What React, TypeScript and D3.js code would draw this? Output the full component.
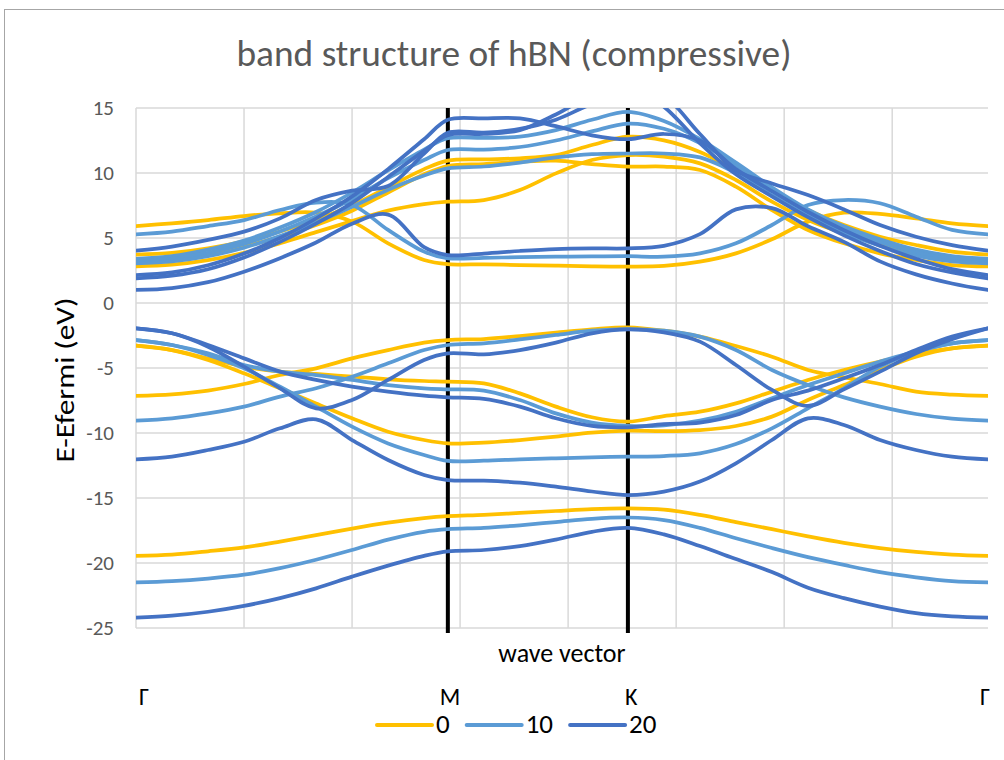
import React from "react";
import * as d3 from "d3";

// k-path positions (Γ=0, M=0.866, K=1.366, Γ=2.366)
const K_PATH = [
  0, 0.1, 0.2, 0.3, 0.4, 0.5, 0.6, 0.7, 0.8, 0.866,
  0.966, 1.066, 1.166, 1.266, 1.366,
  1.466, 1.566, 1.666, 1.766, 1.866, 1.966, 2.066, 2.166, 2.266, 2.366,
];

const SERIES_NAMES = ["0", "10", "20"];
const SERIES_COLORS = ["#FFC000", "#5B9BD5", "#4472C4"];

// strain 0
const BANDS_0: number[][] = [
  [-19.45, -19.35, -19.1, -18.8, -18.35, -17.85, -17.35, -16.9, -16.55, -16.4, -16.3, -16.15, -16.0, -15.85, -15.8, -15.9, -16.3, -16.85, -17.4, -17.95, -18.45, -18.85, -19.15, -19.35, -19.45],
  [-7.15, -7.03, -6.74, -6.23, -5.54, -5.03, -4.26, -3.62, -3.05, -2.85, -2.77, -2.54, -2.28, -2.03, -1.87, -2.13, -2.59, -3.31, -4.13, -5.15, -5.72, -6.23, -6.82, -7.05, -7.15],
  [-3.28, -3.62, -4.26, -4.9, -5.28, -5.46, -5.67, -5.87, -6.0, -6.05, -6.18, -6.95, -7.97, -8.79, -9.13, -8.7, -8.36, -7.72, -6.82, -5.92, -5.15, -4.51, -3.92, -3.49, -3.28],
  [-3.28, -3.62, -4.38, -5.41, -6.56, -7.72, -8.87, -9.9, -10.54, -10.8, -10.74, -10.54, -10.28, -9.97, -9.82, -9.85, -9.77, -9.46, -8.74, -7.46, -6.31, -5.15, -4.13, -3.49, -3.28],
  [5.92, 6.13, 6.38, 6.69, 6.9, 6.95, 6.26, 4.59, 3.31, 2.99, 2.97, 2.92, 2.87, 2.82, 2.8, 2.85, 3.18, 3.82, 4.9, 6.26, 6.95, 6.85, 6.51, 6.13, 5.92],
  [3.72, 3.85, 4.2, 4.75, 5.5, 6.4, 7.5, 8.9, 10.3, 10.95, 11.05, 11.13, 11.38, 12.15, 12.79, 12.51, 11.62, 10.2, 8.69, 7.15, 5.99, 5.1, 4.46, 3.95, 3.72],
  [2.82, 2.95, 3.3, 3.85, 4.6, 5.45, 6.3, 7.1, 7.6, 7.79, 7.92, 8.69, 9.97, 11.0, 11.38, 11.26, 10.74, 9.46, 7.79, 6.38, 5.36, 4.59, 3.82, 3.44, 3.3],
  [3.3, 3.45, 3.8, 4.35, 5.1, 6.0, 7.1, 8.5, 9.9, 10.54, 10.69, 10.87, 10.95, 10.69, 10.49, 10.49, 10.23, 8.95, 7.15, 5.62, 4.59, 3.82, 3.31, 2.92, 2.82],
];

// strain 10
const BANDS_10: number[][] = [
  [-21.5, -21.4, -21.2, -20.9, -20.4, -19.75, -19.0, -18.2, -17.6, -17.4, -17.3, -17.1, -16.85, -16.6, -16.5, -16.7, -17.3, -18.1, -18.85, -19.55, -20.15, -20.7, -21.1, -21.4, -21.5],
  [-9.05, -8.87, -8.49, -7.97, -7.2, -6.56, -5.67, -4.64, -3.62, -3.23, -3.1, -2.8, -2.46, -2.13, -2.0, -2.13, -2.59, -3.62, -5.15, -6.31, -7.26, -7.97, -8.54, -8.9, -9.05],
  [-2.85, -3.23, -3.87, -4.77, -5.28, -5.54, -5.92, -6.31, -6.56, -6.64, -6.74, -7.46, -8.49, -9.2, -9.46, -9.41, -9.05, -8.36, -7.33, -6.31, -5.41, -4.51, -3.74, -3.1, -2.85],
  [-2.85, -3.23, -4.0, -5.03, -6.44, -7.97, -9.51, -10.8, -11.69, -12.15, -12.13, -12.03, -11.95, -11.87, -11.82, -11.77, -11.56, -10.85, -9.64, -8.1, -6.56, -4.9, -3.74, -3.1, -2.85],
  [5.28, 5.49, 5.92, 6.38, 7.15, 7.72, 7.54, 5.62, 3.95, 3.44, 3.48, 3.52, 3.56, 3.58, 3.6, 3.56, 3.82, 4.59, 6.0, 7.54, 7.92, 7.67, 6.64, 5.62, 5.28],
  [3.4, 3.6, 4.1, 4.8, 5.8, 7.0, 8.5, 10.2, 11.8, 12.67, 12.7, 12.8, 13.3, 14.1, 14.7, 14.0, 12.6, 10.8, 8.9, 7.2, 5.9, 4.9, 4.1, 3.6, 3.4],
  [3.2, 3.4, 3.85, 4.55, 5.5, 6.65, 8.0, 9.6, 11.0, 11.77, 11.8, 12.0, 12.5, 13.2, 13.8, 13.4, 12.3, 10.6, 8.7, 7.0, 5.7, 4.7, 3.9, 3.4, 3.2],
  [3.05, 3.2, 3.6, 4.25, 5.15, 6.2, 7.4, 8.7, 9.8, 10.36, 10.5, 10.8, 11.2, 11.45, 11.5, 11.5, 11.2, 10.0, 8.3, 6.7, 5.4, 4.4, 3.65, 3.2, 3.05],
];

// strain 20
const BANDS_20: number[][] = [
  [-24.2, -24.05, -23.75, -23.3, -22.7, -21.95, -21.05, -20.2, -19.45, -19.1, -19.0, -18.7, -18.2, -17.6, -17.3, -17.8, -18.7, -19.7, -20.7, -21.9, -22.7, -23.35, -23.85, -24.1, -24.2],
  [-1.95, -2.33, -3.36, -4.9, -6.56, -8.1, -7.46, -5.92, -4.38, -3.87, -3.95, -3.62, -3.05, -2.33, -2.03, -2.26, -2.97, -4.77, -6.69, -7.92, -6.64, -5.28, -3.87, -2.79, -1.95],
  [-1.95, -2.33, -3.23, -4.26, -5.28, -5.92, -6.44, -6.82, -7.13, -7.26, -7.38, -7.97, -8.87, -9.46, -9.56, -9.31, -9.2, -8.62, -7.46, -6.74, -5.79, -4.77, -3.62, -2.59, -1.95],
  [-12.03, -11.82, -11.31, -10.67, -9.64, -8.95, -10.54, -12.08, -13.23, -13.62, -13.67, -13.82, -14.13, -14.5, -14.77, -14.51, -13.74, -12.33, -10.54, -8.87, -9.38, -10.54, -11.31, -11.82, -12.03],
  [4.02, 4.33, 4.85, 5.49, 6.51, 7.92, 8.64, 9.0, 11.5, 13.1, 13.1, 13.4, 14.1, 15.3, 16.0, 15.8, 13.0, 10.2, 9.2, 8.3, 7.2, 6.0, 5.1, 4.45, 4.02],
  [1.0, 1.15, 1.6, 2.41, 3.45, 4.65, 6.1, 6.8, 4.3, 3.69, 3.8, 4.0, 4.15, 4.2, 4.2, 4.4, 5.3, 7.2, 7.3, 5.9, 4.7, 3.2, 2.2, 1.5, 1.0],
  [2.15, 2.35, 2.9, 3.8, 5.0, 6.5, 8.2, 10.3, 12.6, 14.1, 14.2, 14.2, 13.6, 12.9, 12.6, 13.0, 12.5, 10.3, 8.6, 7.0, 5.6, 4.4, 3.4, 2.6, 2.15],
  [1.9, 2.1, 2.6, 3.5, 4.7, 6.1, 7.7, 9.7, 11.7, 12.9, 13.0, 13.3, 14.5, 16.0, 16.8, 15.1, 12.3, 9.9, 8.2, 6.6, 5.2, 4.0, 3.0, 2.35, 1.9],
];

const SERIES_BANDS = [BANDS_0, BANDS_10, BANDS_20];

const Y_TICKS = [-25, -20, -15, -10, -5, 0, 5, 10, 15];
const X_GRID = [0, 0.3, 0.6, 0.9, 1.2, 1.5, 1.8, 2.1];
const MARKER_K = [0.866, 1.366];
const SYM_LABELS = ["Γ", "M", "K", "Γ"];
const SYM_K = [0, 0.866, 1.366, 2.366];

const FONT = "Carlito, Calibri, Lato, 'Open Sans', sans-serif";

export default function App() {
  const left = 136, right = 988, top = 108, bottom = 628;
  const x = d3.scaleLinear().domain([0, 2.366]).range([left, right]);
  const y = d3.scaleLinear().domain([-25, 15]).range([bottom, top]);
  const line = d3
    .line<number>()
    .x((_, i) => x(K_PATH[i]))
    .y((d) => y(d))
    .curve(d3.curveCatmullRom.alpha(0.5));

  const symOffsets = [3, -8, -3, -8];

  // legend layout
  let lx = 377;
  const legendItems = SERIES_NAMES.map((name, i) => {
    const item = { name, color: SERIES_COLORS[i], x: lx };
    lx += 59 + name.length * 13.7 + 17;
    return item;
  });

  return (
    <svg
      width={1004}
      height={760}
      style={{ position: "absolute", left: 0, top: 0, background: "#fff" }}
      fontFamily={FONT}
    >
      <rect x={0} y={0} width={1004} height={760} fill="#fff" />
      <rect x={4.5} y={9.5} width={1100} height={1000} fill="none" stroke="#A6A6A6" strokeWidth={1} />
      <defs>
        <clipPath id="plotClip">
          <rect x={left} y={top} width={right - left} height={bottom - top} />
        </clipPath>
      </defs>

      <text x={514} y={66} textAnchor="middle" fontSize={37} fill="#595959" textLength={555} lengthAdjust="spacingAndGlyphs">
        band structure of hBN (compressive)
      </text>

      {/* gridlines */}
      {Y_TICKS.map((t) => (
        <line key={"h" + t} x1={left} x2={right} y1={y(t)} y2={y(t)} stroke="#D9D9D9" strokeWidth={1.5} />
      ))}
      {X_GRID.map((g) => (
        <line key={"v" + g} x1={x(g)} x2={x(g)} y1={top} y2={bottom} stroke="#D9D9D9" strokeWidth={1.5} />
      ))}

      {/* y tick labels */}
      {Y_TICKS.map((t) => (
        <text key={"t" + t} x={114} y={y(t) + 7} textAnchor="end" fontSize={21} fill="#595959">
          {t}
        </text>
      ))}

      {/* high-symmetry markers */}
      {MARKER_K.map((k) => (
        <line key={"m" + k} x1={x(k)} x2={x(k)} y1={y(15)} y2={y(-25) + 5} stroke="#000" strokeWidth={4} />
      ))}

      {/* bands */}
      <g clipPath="url(#plotClip)">
        {SERIES_BANDS.map((bands, si) =>
          bands.map((b, bi) => (
            <path key={si + "-" + bi} d={line(b) || ""} fill="none" stroke={SERIES_COLORS[si]} strokeWidth={3.75} strokeLinejoin="round" strokeLinecap="round" />
          ))
        )}
      </g>

      {/* axis titles */}
      <text x={562} y={662} textAnchor="middle" fontSize={26} fill="#000">
        wave vector
      </text>
      <text transform="translate(74,380) rotate(-90)" textAnchor="middle" fontSize={27} fill="#000" textLength={165} lengthAdjust="spacingAndGlyphs">
        E-Efermi (eV)
      </text>

      {/* high symmetry labels */}
      {SYM_LABELS.map((lab, i) => (
        <text key={"s" + i} x={x(SYM_K[i]) + symOffsets[i]} y={705} fontSize={24} fill="#000">
          {lab}
        </text>
      ))}

      {/* legend */}
      {legendItems.map((it) => (
        <g key={"l" + it.name}>
          <line x1={it.x} x2={it.x + 55} y1={725} y2={725} stroke={it.color} strokeWidth={4} strokeLinecap="round" />
          <text x={it.x + 59} y={733} fontSize={27} fill="#000">
            {it.name}
          </text>
        </g>
      ))}
    </svg>
  );
}
